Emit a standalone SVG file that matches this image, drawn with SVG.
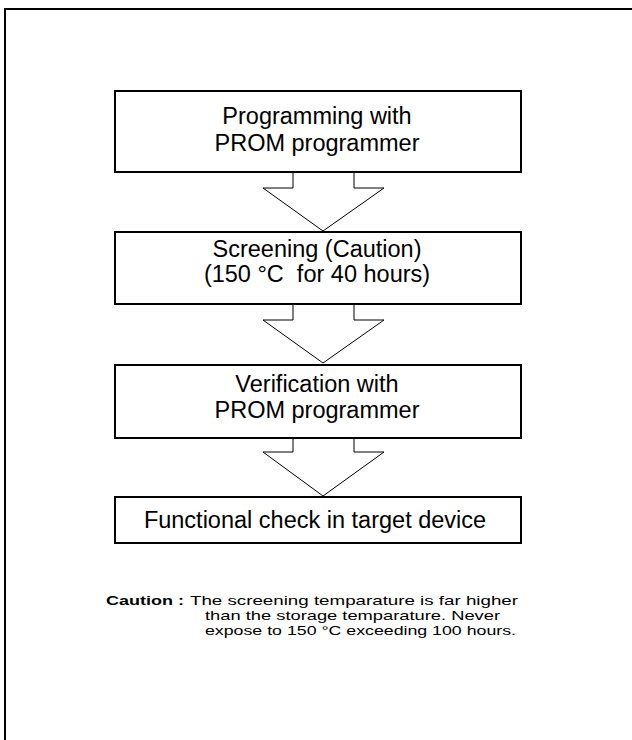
<svg xmlns="http://www.w3.org/2000/svg" width="632" height="740" viewBox="0 0 632 740">
<style>
.frame{fill:none;stroke:#000;stroke-width:2}
.box{fill:#fff;stroke:#000;stroke-width:2}
.arrow{fill:none;stroke:#000;stroke-width:1}
.t{font-family:"Liberation Sans",Arial,sans-serif;font-size:23.5px;fill:#000;text-anchor:middle}
.c{font-family:"Liberation Sans",Arial,sans-serif;font-size:13px;fill:#000}
.cb{font-weight:bold}
</style>
<rect width="632" height="740" fill="#fff"/>
<rect class="frame" x="5" y="9" width="640" height="740"/>
<g id="connectors">
<polyline class="arrow" points="293,172 293,188 263,188 323,231 384,188 354,188 354,172"/>
<polyline class="arrow" points="293,304 293,320 263,320 323,363 384,320 354,320 354,304"/>
<polyline class="arrow" points="293,438 293,452 263,452 323,496 384,452 354,452 354,438"/>
</g>
<g id="n1">
<rect class="box" x="115" y="91" width="406" height="81"/>
<text class="t" x="317" y="124">Programming with</text>
<text class="t" x="317" y="151">PROM programmer</text>
</g>
<g id="n2">
<rect class="box" x="115" y="232" width="406" height="72"/>
<text class="t" x="317" y="257">Screening (Caution)</text>
<text class="t" x="317" y="282" xml:space="preserve">(150 °C  for 40 hours)</text>
</g>
<g id="n3">
<rect class="box" x="115" y="365" width="406" height="73"/>
<text class="t" x="317" y="392">Verification with</text>
<text class="t" x="317" y="418">PROM programmer</text>
</g>
<g id="n4">
<rect class="box" x="115" y="497" width="406" height="46"/>
<text class="t" x="315" y="528">Functional check in target device</text>
</g>
<g id="caution">
<text class="c cb" x="106" y="605" textLength="78" lengthAdjust="spacingAndGlyphs">Caution :</text>
<text class="c" x="190" y="605" textLength="328" lengthAdjust="spacingAndGlyphs">The screening temparature is far higher</text>
<text class="c" x="205" y="620" textLength="295" lengthAdjust="spacingAndGlyphs">than the storage temparature. Never</text>
<text class="c" x="205" y="635" textLength="311" lengthAdjust="spacingAndGlyphs">expose to 150 °C exceeding 100 hours.</text>
</g>
</svg>
